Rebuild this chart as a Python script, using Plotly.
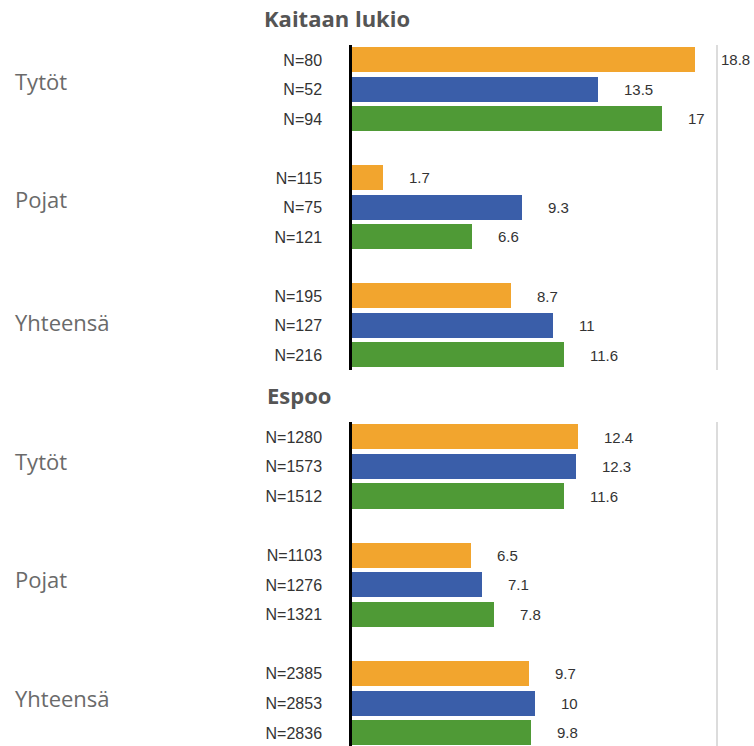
import plotly.graph_objects as go

# ---- data ----
panel_titles = ["Kaitaan lukio", "Espoo"]
groups = ["Tytöt", "Pojat", "Yhteensä"]
series_names = ["Sarja 1", "Sarja 2", "Sarja 3"]
series_colors = ["#F2A52E", "#3A5EA9", "#4F9A36"]

kaitaa_s1 = [18.8, 1.7, 8.7]
kaitaa_s2 = [13.5, 9.3, 11]
kaitaa_s3 = [17, 6.6, 11.6]
kaitaa_n1 = [80, 115, 195]
kaitaa_n2 = [52, 75, 127]
kaitaa_n3 = [94, 121, 216]

espoo_s1 = [12.4, 6.5, 9.7]
espoo_s2 = [12.3, 7.1, 10]
espoo_s3 = [11.6, 7.8, 9.8]
espoo_n1 = [1280, 1103, 2385]
espoo_n2 = [1573, 1276, 2853]
espoo_n3 = [1512, 1321, 2836]

panels = [
    ([kaitaa_s1, kaitaa_s2, kaitaa_s3], [kaitaa_n1, kaitaa_n2, kaitaa_n3]),
    ([espoo_s1, espoo_s2, espoo_s3], [espoo_n1, espoo_n2, espoo_n3]),
]

W, H = 754, 746
fig = go.Figure()
annotations = []

panel_px = [(45.25, 369.75), (422.2, 746.0)]
panel_ranges = [[10.5, -0.5], [10.44, -0.5]]
group_label_shift = [[8, 8, 4], [6, 6, 5]]
title_pos = [(262, 18), (265, 395)]
x0_px = 352
px_per_unit = 18.25
x_range = [0, (W - x0_px) / px_per_unit]

for p, (vals, ns) in enumerate(panels):
    xa = "x" if p == 0 else "x2"
    ya = "y" if p == 0 else "y2"
    tickvals, ticktext = [], []
    for s in range(3):
        ys = [g * 4 + s for g in range(3)]
        fig.add_trace(go.Bar(
            x=vals[s], y=ys, orientation="h", xaxis=xa, yaxis=ya,
            marker=dict(color=series_colors[s], line=dict(width=0)),
            width=0.85, name=series_names[s], showlegend=False,
            hoverinfo="x",
        ))
        for g in range(3):
            tickvals.append(ys[g])
            ticktext.append(f"N={ns[s][g]}")
            annotations.append(dict(
                x=vals[s][g], y=ys[g], xref=xa, yref=ya,
                text=f"{vals[s][g]:g}", showarrow=False,
                xanchor="left", yanchor="middle", xshift=24,
                font=dict(family="Liberation Sans, Arial", size=15, color="#333333"),
            ))
    for g in range(3):
        annotations.append(dict(
            x=13 / W, y=g * 4 + 1, xref="paper", yref=ya,
            text=groups[g], showarrow=False, xanchor="left", yanchor="middle",
            yshift=group_label_shift[p][g],
            font=dict(family="Open Sans", size=22, color="#6a6a6a"),
        ))
    top, bot = panel_px[p]
    dom = [max(0, 1 - bot / H), 1 - top / H]
    fig.layout[("yaxis" if p == 0 else "yaxis2")] = dict(
        domain=dom, range=panel_ranges[p], tickvals=tickvals, ticktext=ticktext,
        showline=True, linecolor="black", linewidth=2.5, showgrid=False,
        zeroline=False, ticks="", ticklabelstandoff=24, anchor=xa,
        tickfont=dict(family="Liberation Sans, Arial", size=16, color="#333333"),
        fixedrange=True,
    )
    fig.layout[("xaxis" if p == 0 else "xaxis2")] = dict(
        domain=[x0_px / W, 1], range=x_range, tickvals=[20], showticklabels=False,
        showgrid=True, gridcolor="#dcdcdc", gridwidth=1.5, zeroline=False,
        showline=False, anchor=ya, fixedrange=True,
    )
    tx, ty = title_pos[p]
    annotations.append(dict(
        x=tx / W, y=1 - ty / H,
        xref="paper", yref="paper", text=f"<b>{panel_titles[p]}</b>",
        showarrow=False, xanchor="left", yanchor="middle",
        font=dict(family="Open Sans", size=22, color="#555555"),
    ))

fig.update_layout(
    width=W, height=H, margin=dict(l=0, r=0, t=0, b=0),
    plot_bgcolor="white", paper_bgcolor="white",
    bargap=0, annotations=annotations, showlegend=False,
)

fig.write_html(
    "out.html",
    config={"displayModeBar": False},
    post_script="document.body.style.margin='0';document.body.style.overflow='hidden';",
)
